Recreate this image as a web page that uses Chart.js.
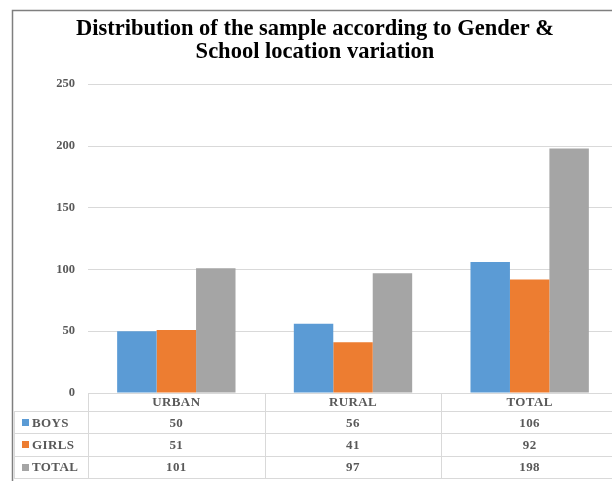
<!DOCTYPE html>
<html>
<head>
<meta charset="utf-8">
<script src="https://cdn.jsdelivr.net/npm/chart.js@4.4.0/dist/chart.umd.min.js"></script>
<style>
    body { margin: 0; overflow: hidden; background: #fff; }
</style>
</head>
<body>
<canvas id="myChart" width="618" height="481"></canvas>
<script>
var categories = ["URBAN", "RURAL", "TOTAL"];
var seriesNames = ["BOYS", "GIRLS", "TOTAL"];
var boys = [50, 56, 106];
var girls = [51, 41, 92];
var total = [101, 97, 198];
var yTicks = [0, 50, 100, 150, 200, 250];

var colors = ["#5b9bd5", "#ed7d31", "#a5a5a5"];
var rows = [boys, girls, total];
var font = "'Liberation Serif', 'Times New Roman', serif";

//TABLE + FRAME
var tablePlugin = {
    id: "dataTable",
    afterDraw: function (chart) {
        var ctx = chart.ctx;
        var area = chart.chartArea;
        var x = chart.scales.x;
        var left = area.left;
        var right = area.right;
        var top = area.bottom;
        var headerBottom = top + 18;
        var rowH = 22.3;
        var labelLeft = 14;
        var colW = (right - left) / categories.length;

        ctx.save();
        ctx.strokeStyle = "#d9d9d9";
        ctx.lineWidth = 1;
        ctx.beginPath();
        // header top line
        ctx.moveTo(left, top + 0.5);
        ctx.lineTo(right, top + 0.5);
        // row lines
        for (let i = 0; i <= rows.length; i++) {
            var yy = Math.round(headerBottom + i * rowH) + 0.5;
            ctx.moveTo(labelLeft, yy);
            ctx.lineTo(right, yy);
        }
        // vertical lines
        var bottom = Math.round(headerBottom + rows.length * rowH) + 0.5;
        ctx.moveTo(labelLeft + 0.5, headerBottom);
        ctx.lineTo(labelLeft + 0.5, bottom);
        for (let c = 0; c <= categories.length; c++) {
            var xx = Math.round(left + c * colW) + 0.5;
            ctx.moveTo(xx, top);
            ctx.lineTo(xx, bottom);
        }
        ctx.stroke();

        ctx.font = "bold 13px " + font;
        ctx.letterSpacing = "0.4px";
        ctx.textBaseline = "middle";
        ctx.fillStyle = "#595959";
        ctx.textAlign = "center";
        for (let c = 0; c < categories.length; c++) {
            ctx.fillText(categories[c], x.getPixelForValue(c), top + 10);
        }
        for (let i = 0; i < rows.length; i++) {
            var cy = headerBottom + (i + 0.5) * rowH + 1;
            ctx.fillStyle = colors[i];
            ctx.fillRect(22, Math.round(cy - 4), 7, 7);
            ctx.fillStyle = "#595959";
            ctx.textAlign = "left";
            ctx.fillText(seriesNames[i], 32, cy);
            ctx.textAlign = "center";
            for (let c = 0; c < categories.length; c++) {
                ctx.fillText(String(rows[i][c]), x.getPixelForValue(c), cy);
            }
        }

        // outer frame
        ctx.strokeStyle = "#7f7f7f";
        ctx.lineWidth = 1.5;
        ctx.beginPath();
        ctx.moveTo(12.5, chart.height);
        ctx.lineTo(12.5, 10.5);
        ctx.lineTo(chart.width, 10.5);
        ctx.stroke();
        ctx.restore();
    },
};

var data = {
    labels: categories,
    datasets: [
        { label: seriesNames[0], data: boys, backgroundColor: colors[0] },
        { label: seriesNames[1], data: girls, backgroundColor: colors[1] },
        { label: seriesNames[2], data: total, backgroundColor: colors[2] },
    ],
};

var config = {
    type: "bar",
    data: data,
    options: {
        responsive: false,
        animation: false,
        layout: {
            padding: { left: 12, right: 0, top: 10, bottom: 70 },
        },
        datasets: {
            bar: { barPercentage: 1, categoryPercentage: 0.67 },
        },
        plugins: {
            legend: { display: false },
            tooltip: { enabled: false },
            title: {
                display: true,
                text: [
                    "Distribution of the sample according to Gender &",
                    "School location variation",
                ],
                color: "#000",
                font: { family: font, size: 22.5, weight: "bold", lineHeight: 1.05 },
                padding: { top: 7, bottom: 20 },
            },
        },
        scales: {
            x: {
                grid: { display: false },
                border: { display: false },
                // category labels are drawn in the table header row
                ticks: { display: false },
                afterFit: function (s) {
                    s.height = 18;
                },
            },
            y: {
                min: 0,
                max: 250,
                afterBuildTicks: function (s) {
                    s.ticks = yTicks.map(function (v) {
                        return { value: v };
                    });
                },
                grid: { color: "#d9d9d9", drawTicks: false },
                border: { display: false },
                ticks: {
                    color: "#595959",
                    font: { family: font, size: 12.5, weight: "bold" },
                    padding: 13,
                },
                afterFit: function (s) {
                    s.width = 76;
                },
            },
        },
    },
    plugins: [tablePlugin],
};

var myChart = new Chart(document.getElementById("myChart"), config);
</script>
</body>
</html>
